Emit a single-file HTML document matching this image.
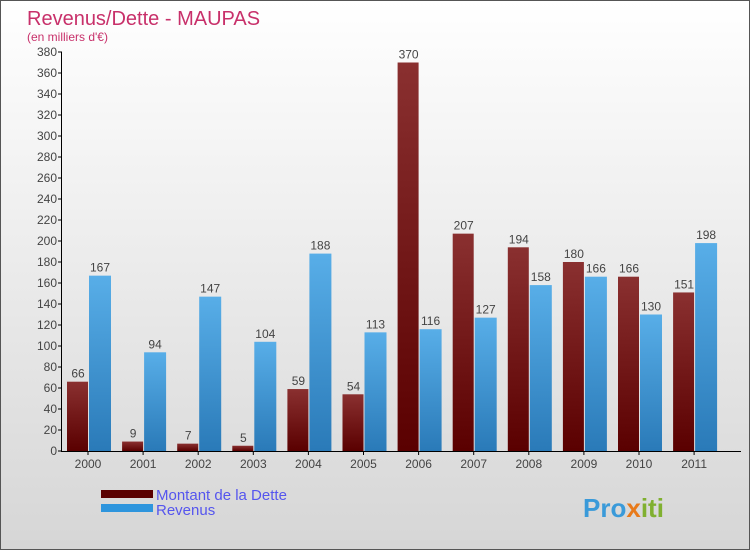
<!DOCTYPE html>
<html><head><meta charset="utf-8"><style>
body{margin:0;width:750px;height:550px;overflow:hidden;font-family:"Liberation Sans",sans-serif}
#wrap{position:relative;width:748px;height:548px;border:1px solid #555;background:linear-gradient(#ffffff,#d6d6d6)}
svg{position:absolute;left:0;top:0}
</style></head><body>
<div id="wrap">
<svg id="c" width="750" height="550">
<defs>
<linearGradient id="gd" x1="0" y1="0" x2="0" y2="1"><stop offset="0" stop-color="#8a3030"/><stop offset="1" stop-color="#5a0000"/></linearGradient>
<linearGradient id="gr" x1="0" y1="0" x2="0" y2="1"><stop offset="0" stop-color="#58aee8"/><stop offset="1" stop-color="#2a7ab8"/></linearGradient>
</defs>
<text x="26" y="24" font-size="20" fill="#c8306a">Revenus/Dette - MAUPAS</text>
<text x="26" y="40" font-size="12" fill="#c8306a">(en milliers d'€)</text>
<g id="bars"></g>
<g id="axes"></g>
<rect x="100" y="489" width="52" height="8" fill="#5a0000"/>
<rect x="100" y="503" width="52" height="8" fill="#2e95dd"/>
<text x="155" y="499" font-size="15" fill="#5555ee">Montant de la Dette</text>
<text x="155" y="514" font-size="15" fill="#5555ee">Revenus</text>
<text x="582" y="516" font-size="26" font-weight="bold" fill="#3a9ad9">Pro<tspan fill="#e87a1a">x</tspan><tspan fill="#80b030">iti</tspan></text>
</svg>
</div>
<script>
const years=["2000","2001","2002","2003","2004","2005","2006","2007","2008","2009","2010","2011"];
const dette=[66,9,7,5,59,54,370,207,194,180,166,151];
const revenus=[167,94,147,104,188,113,116,127,158,166,130,198];
const yTicks=[0,20,40,60,80,100,120,140,160,180,200,220,240,260,280,300,320,340,360,380];
const NS="http://www.w3.org/2000/svg";
const y0=450,y1=51,vmax=380;
const yS=v=>y0-(v/vmax)*(y0-y1);
const xC=i=>87+i*55.1;
function mk(tag,at,p){const e=document.createElementNS(NS,tag);for(const k in at)e.setAttribute(k,at[k]);p.appendChild(e);return e;}
const bars=document.getElementById('bars'),axes=document.getElementById('axes');
years.forEach((yr,i)=>{
 const c=xC(i);
 const b1=mk('rect',{x:c-21,y:yS(dette[i]),width:21,height:y0-yS(dette[i]),fill:'url(#gd)'},bars);
 
 
 const b2=mk('rect',{x:c+1,y:yS(revenus[i]),width:22,height:y0-yS(revenus[i]),fill:'url(#gr)'},bars);
 
 
 const t1=mk('text',{x:c-10,y:yS(dette[i])-4,'font-size':12,'text-anchor':'middle',fill:'#444'},bars);t1.textContent=dette[i];
 
 
 const t2=mk('text',{x:c+12,y:yS(revenus[i])-4,'font-size':12,'text-anchor':'middle',fill:'#444'},bars);t2.textContent=revenus[i];
 
 
 mk('line',{x1:c,x2:c,y1:y0,y2:y0+4,stroke:'#000'},axes);
 const xl=mk('text',{x:c,y:467,'font-size':12,'text-anchor':'middle',fill:'#444'},axes);xl.textContent=yr;
 
 
});
yTicks.forEach(v=>{
 const y=yS(v);
 mk('line',{x1:57,x2:61,y1:y,y2:y,stroke:'#000'},axes);
 const t=mk('text',{x:56,y:y+4,'font-size':12,'text-anchor':'end',fill:'#444'},axes);t.textContent=v;
 
 
});
const ya=mk('line',{x1:60.5,x2:60.5,y1:y1,y2:y0,stroke:'#000'},axes);


const xa=mk('line',{x1:60,x2:740,y1:y0+0.5,y2:y0+0.5,stroke:'#000'},axes);


</script>
</body></html>
